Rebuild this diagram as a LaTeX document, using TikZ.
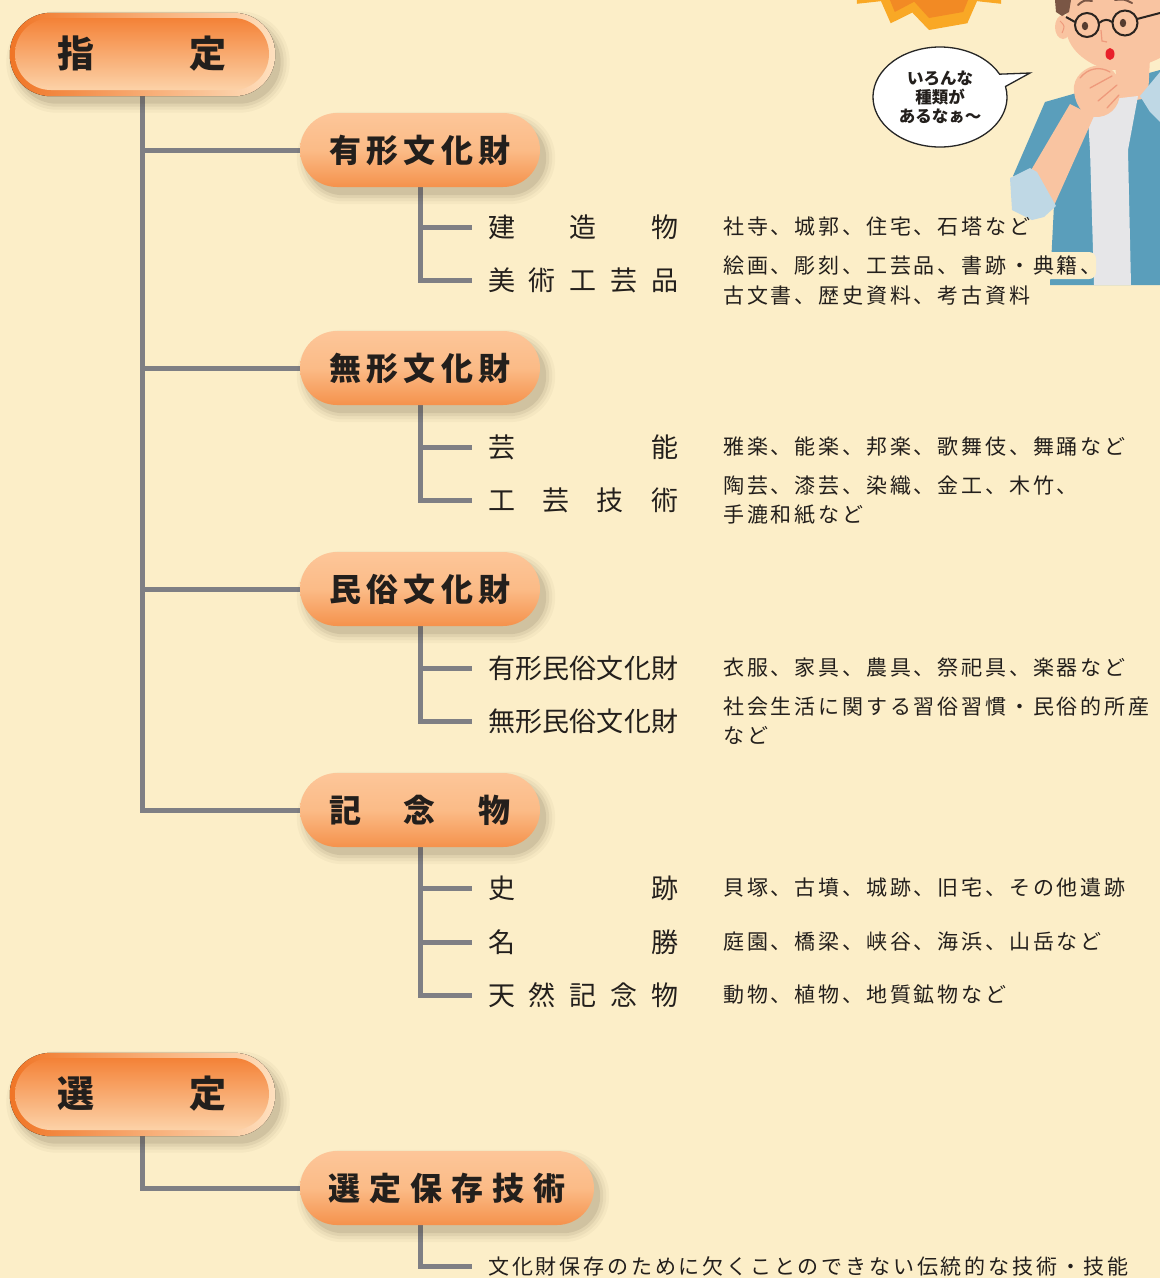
\documentclass[tikz,border=0pt]{standalone}
\usepackage{fontspec}
\usetikzlibrary{shapes.geometric,shapes.callouts}

\newfontfamily\jp{Noto Sans CJK JP}
\newfontfamily\jpls[LetterSpace=13.5]{Noto Sans CJK JP}
\newcommand\fTop{\jp\bfseries\fontsize{37}{40}\selectfont}
\newcommand\fSub{\jp\bfseries\fontsize{32}{36}\selectfont}
\newcommand\fItem{\jp\fontsize{27}{30}\selectfont}
\newcommand\fDesc{\jpls\fontsize{21}{30}\selectfont}
\newcommand\fDescB{\jpls\fontsize{21}{29}\selectfont}
\newcommand\fBub{\jp\bfseries\fontsize{16.5}{19}\selectfont}
% text spread evenly over a fixed width
\newcommand\spread[2]{\hbox to #1pt{#2}}

\definecolor{bg}{HTML}{FCEEC8}
\definecolor{ln}{HTML}{7F7F84}
\definecolor{ink}{HTML}{231F1C}
\definecolor{orA}{HTML}{F07526}
\definecolor{orB}{HTML}{FEE0BF}
\definecolor{orC}{HTML}{F48237}
\definecolor{orD}{HTML}{FCD2A8}
\definecolor{pkA}{HTML}{FDC699}
\definecolor{pkM}{HTML}{FBBB87}
\definecolor{pkB}{HTML}{F5924C}
\definecolor{shd}{HTML}{4A3C28}
\definecolor{burstO}{HTML}{F9A825}
\definecolor{burstI}{HTML}{F28A24}
\definecolor{skin}{HTML}{F9C4A1}
\definecolor{skinline}{HTML}{EE9A7C}
\definecolor{jacket}{HTML}{5A9EBB}
\definecolor{cuff}{HTML}{BFD8E5}
\definecolor{shirt}{HTML}{E6E6E8}
\definecolor{hair}{HTML}{7A5645}
\definecolor{frame}{HTML}{2A2420}
\definecolor{lip}{HTML}{E8202A}

\pgfdeclarelayer{back}
\pgfdeclarelayer{lines}
\pgfdeclarelayer{shade}
\pgfsetlayers{back,lines,shade,main}

\tikzset{
  topbtn/.style={rounded corners=36, inner sep=0, minimum width=254, minimum height=72,
    top color=orC, bottom color=orD, font=\fTop, text=ink},
  subbtn/.style={rounded corners=37, inner sep=0, minimum height=74,
    top color=pkA, bottom color=pkB, middle color=pkM, font=\fSub, text=ink},
  conn/.style={draw=ln, line width=5},
  item/.style={anchor=west, inner xsep=16, inner ysep=0, font=\fItem, text=ink},
  desc/.style={anchor=west, inner sep=0, align=left, font=\fDesc, text=ink},
}

% soft shadow below-right of a button: node, corner radius, extra margin
\newcommand\dropshade[3]{%
  \begin{pgfonlayer}{shade}
  \foreach \g/\op/\rr in {9/0.04/#2+#3+9,6/0.05/#2+#3+6,3/0.07/#2+#3+3,0/0.10/#2+#3}{
    \fill[shd, opacity=\op, rounded corners=\rr]
      ([shift={(6-#3-\g,8-#3-\g)}]#1.north west) rectangle
      ([shift={(6+#3+\g,8+#3+\g)}]#1.south east);
  }
  \end{pgfonlayer}}

% bevelled rim around a main heading button
\newcommand\toprim[1]{%
  \begin{pgfonlayer}{shade}
  \fill[rounded corners=41, left color=orA, right color=orB]
    ([shift={(-5,-5)}]#1.north west) rectangle ([shift={(6,6)}]#1.south east);
  \end{pgfonlayer}}

\begin{document}
\begin{tikzpicture}[x=1pt,y=-1pt]
\useasboundingbox (0,0) rectangle (1160,1278);
\begin{pgfonlayer}{back}
\fill[bg] (0,0) rectangle (1160,1278);
\end{pgfonlayer}
\clip (0,0) rectangle (1160,1278);

% starburst at the top edge
\begin{scope}[shift={(929,-82)}]
  \fill[burstO] (90:112) \foreach \k in {1,...,17}{ -- ({80+20*\k}:96) -- ({90+20*\k}:112) } -- cycle;
  \fill[burstI] (90:100) \foreach \k in {1,...,17}{ -- ({80+20*\k}:85) -- ({90+20*\k}:100) } -- cycle;
\end{scope}

% the young man
\fill[jacket] (1045,102) -- (1080,92) -- (1160,70) -- (1160,285) -- (1050,285) -- (1054,205) -- (1013,176) -- cycle;
\fill[skin] (1115,62) -- (1150,58) -- (1148,98) -- (1118,103) -- cycle;
\fill[shirt] (1087,102) -- (1138,96) -- (1128,150) -- (1131,285) -- (1094,285) -- (1090,150) -- cycle;
\fill[cuff] (1140,96) -- (1160,72) -- (1160,122) -- (1150,112) -- cycle;
\fill[skin] (1030,172) -- (1070,104) -- (1094,116) -- (1052,210) -- cycle;
\fill[cuff] (1010,178) -- (1030,168) -- (1037,172) -- (1056,206) -- (1044,217) -- (1032,220) -- (1012,210) -- cycle;
\fill[skin] (1066,0) -- (1067,35) .. controls (1072,55) and (1095,68) .. (1112,70)
  .. controls (1132,70) and (1150,63) .. (1160,58) -- (1160,0) -- cycle;
\fill[skin] (1063,27) ellipse [x radius=8, y radius=12];
\draw[skinline, line width=1] (1060,21) .. controls (1065,26) .. (1062,33);
\fill[hair] (1055,0) -- (1071,0) -- (1069,12) -- (1062,16) -- (1056,12) -- cycle;
\draw[hair, line width=2, line cap=round] (1078,5) .. controls (1084,0) .. (1092,1);
\draw[hair, line width=2, line cap=round] (1115,0) .. controls (1124,-1) .. (1132,3);
\draw[frame, line width=2] (1087,25) circle [radius=12];
\draw[frame, line width=2] (1125,23) circle [radius=12.5];
\draw[frame, line width=2] (1099,23) .. controls (1104,19) and (1108,19) .. (1112,22);
\draw[frame, line width=2] (1075,22) -- (1066,17);
\draw[frame, line width=2] (1137,19) -- (1160,13);
\fill[hair!70!black] (1085,26) ellipse [x radius=3.2, y radius=4.2];
\fill[hair!70!black] (1123,23) ellipse [x radius=3.2, y radius=4.2];
\draw[skinline, line width=1.2] (1101,30) -- (1102,41) -- (1107,42);
\fill[lip] (1110,54) ellipse [x radius=4.5, y radius=6];
\fill[skin] (1074,86) .. controls (1076,72) and (1092,63) .. (1104,66)
  .. controls (1114,68) and (1120,78) .. (1120,92)
  .. controls (1120,108) and (1108,118) .. (1094,117)
  .. controls (1082,116) and (1073,102) .. cycle;
\draw[skinline, line width=1.3, line cap=round] (1080,78) .. controls (1088,68) and (1100,66) .. (1110,72);
\draw[skinline, line width=1.3, line cap=round] (1090,88) -- (1112,76);
\draw[skinline, line width=1.3, line cap=round] (1098,101) -- (1117,85);
\draw[skinline, line width=1.3, line cap=round] (1107,108) -- (1119,95);
% light patch behind the words that run over the jacket
\fill[bg, rounded corners=7] (1044,252) rectangle (1096,279);

% speech bubble
\coordinate (tip) at (1030,73);
\node[ellipse callout, callout absolute pointer=(tip), draw=black!85, line width=1.3,
  fill=white, minimum width=134, minimum height=100, inner sep=0, align=center,
  font=\fBub, text=ink] (bub) at (940,97) {いろんな\\種類が\\あるなぁ～};

% heading buttons
\node[topbtn] (shitei) at (142,54) {\spread{170}{指\hfil 定}};
\dropshade{shitei}{36}{5.5}
\toprim{shitei}
\node[topbtn] (sentei) at (142,1094) {\spread{170}{選\hfil 定}};
\dropshade{sentei}{36}{5.5}
\toprim{sentei}

% category buttons
\node[subbtn, minimum width=240] (yukei) at (420,150) {\spread{182}{有\hfil 形\hfil 文\hfil 化\hfil 財}};
\node[subbtn, minimum width=240] (mukei) at (420,368) {\spread{182}{無\hfil 形\hfil 文\hfil 化\hfil 財}};
\node[subbtn, minimum width=240] (minzoku) at (420,589) {\spread{182}{民\hfil 俗\hfil 文\hfil 化\hfil 財}};
\node[subbtn, minimum width=240] (kinen) at (420,810) {\spread{182}{記\hfil 念\hfil 物}};
\node[subbtn, minimum width=294] (hozon) at (447,1188) {\spread{238}{選\hfil 定\hfil 保\hfil 存\hfil 技\hfil 術}};
\dropshade{yukei}{37}{0}
\dropshade{mukei}{37}{0}
\dropshade{minzoku}{37}{0}
\dropshade{kinen}{37}{0}
\dropshade{hozon}{37}{0}

% items
\node[item] (kenzo) at (472,227) {\spread{190}{建\hfil 造\hfil 物}};
\node[item] (bijutsu) at (472,280) {\spread{190}{美\hfil 術\hfil 工\hfil 芸\hfil 品}};
\node[item] (geino) at (472,447) {\spread{190}{芸\hfil 能}};
\node[item] (kogei) at (472,500) {\spread{190}{工\hfil 芸\hfil 技\hfil 術}};
\node[item] (yminzoku) at (472,668) {\spread{190}{有\hfil 形\hfil 民\hfil 俗\hfil 文\hfil 化\hfil 財}};
\node[item] (mminzoku) at (472,721) {\spread{190}{無\hfil 形\hfil 民\hfil 俗\hfil 文\hfil 化\hfil 財}};
\node[item] (shiseki) at (472,888) {\spread{190}{史\hfil 跡}};
\node[item] (meisho) at (472,942) {\spread{190}{名\hfil 勝}};
\node[item] (tennen) at (472,995) {\spread{190}{天\hfil 然\hfil 記\hfil 念\hfil 物}};
\node[item, font=\fDesc] (dentou) at (472,1266) {文化財保存のために欠くことのできない伝統的な技術・技能};

% descriptions
\node[desc] (d-kenzo) at (723,227) {社寺、城郭、住宅、石塔など};
\node[desc] (d-bijutsu) at (723,280) {絵画、彫刻、工芸品、書跡・典籍、\\古文書、歴史資料、考古資料};
\node[desc] (d-geino) at (723,447) {雅楽、能楽、邦楽、歌舞伎、舞踊など};
\node[desc, font=\fDescB] (d-kogei) at (723,500) {陶芸、漆芸、染織、金工、木竹、\\手漉和紙など};
\node[desc] (d-yminzoku) at (723,668) {衣服、家具、農具、祭祀具、楽器など};
\node[desc, font=\fDescB] (d-mminzoku) at (723,721) {社会生活に関する習俗習慣・民俗的所産\\など};
\node[desc] (d-shiseki) at (723,888) {貝塚、古墳、城跡、旧宅、その他遺跡};
\node[desc] (d-meisho) at (723,942) {庭園、橋梁、峡谷、海浜、山岳など};
\node[desc] (d-tennen) at (723,995) {動物、植物、地質鉱物など};

% connectors
\begin{pgfonlayer}{lines}
\draw[conn] (shitei.south) |- (kinen.west);
\draw[conn] (shitei.south |- yukei.west) -- (yukei.west);
\draw[conn] (shitei.south |- mukei.west) -- (mukei.west);
\draw[conn] (shitei.south |- minzoku.west) -- (minzoku.west);
\draw[conn] (yukei.south) |- (bijutsu.west);
\draw[conn] (yukei.south |- kenzo.west) -- (kenzo.west);
\draw[conn] (mukei.south) |- (kogei.west);
\draw[conn] (mukei.south |- geino.west) -- (geino.west);
\draw[conn] (minzoku.south) |- (mminzoku.west);
\draw[conn] (minzoku.south |- yminzoku.west) -- (yminzoku.west);
\draw[conn] (kinen.south) |- (tennen.west);
\draw[conn] (kinen.south |- shiseki.west) -- (shiseki.west);
\draw[conn] (kinen.south |- meisho.west) -- (meisho.west);
\draw[conn] (sentei.south) |- (hozon.west);
\draw[conn] (hozon.south -| kinen.south) |- (dentou.west);
\end{pgfonlayer}
\end{tikzpicture}
\end{document}
